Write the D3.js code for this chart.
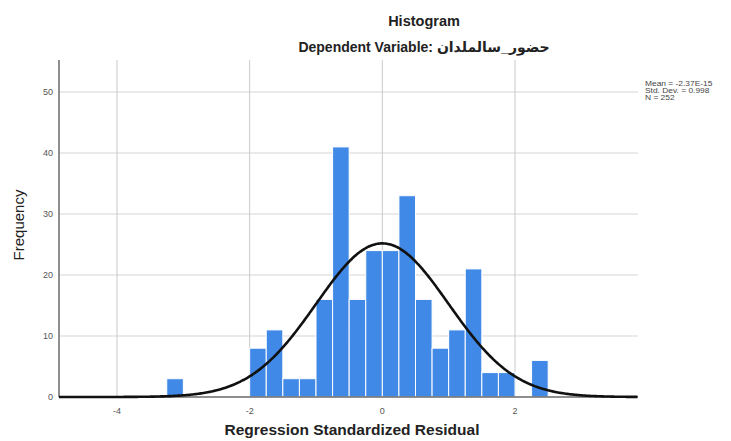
<!DOCTYPE html>
<html>
<head>
<meta charset="utf-8">
<script src="https://cdn.jsdelivr.net/npm/d3@7"></script>
<style>
  html, body { margin: 0; padding: 0; background: #fff; }
  svg { display: block; font-family: "Liberation Sans", Arial, "DejaVu Sans", sans-serif; }
</style>
</head>
<body>
<svg id="chart" width="731" height="441"></svg>
<script>
// ---- data ----
const binLower = [-3.25, -2.0, -1.75, -1.5, -1.25, -1.0, -0.75, -0.5, -0.25, 0.0, 0.25, 0.5, 0.75, 1.0, 1.25, 1.5, 1.75, 2.25];
const counts   = [3, 8, 11, 3, 3, 16, 41, 16, 24, 24, 33, 16, 8, 11, 21, 4, 4, 6];
const binWidth = 0.25;
const xTicks = [-4, -2, 0, 2];
const yTicks = [0, 10, 20, 30, 40, 50];
const statMean = -2.37e-15;
const statSD = 0.998;
const statN = 252;
const statLines = ["Mean = -2.37E-15", "Std. Dev. = 0.998", "N = 252"];
const titleText = "Histogram";
const subtitleText = "Dependent Variable: حضور_سالملدان";
const xTitle = "Regression Standardized Residual";
const yTitle = "Frequency";

// ---- layout ----
const svg = d3.select("#chart");
const x = d3.scaleLinear().domain([-4, 2]).range([117, 515]);
const y = d3.scaleLinear().domain([0, 50]).range([397, 92]);
const xMin = x.invert(59), xMax = x.invert(638);
const yMax = y.invert(60);

// horizontal gridlines
svg.append("g").selectAll("line").data(yTicks.filter(d => d > 0)).join("line")
  .attr("x1", x(xMin)).attr("x2", x(xMax))
  .attr("y1", d => y(d)).attr("y2", d => y(d))
  .attr("stroke", "#e3e3e3").attr("stroke-width", 1.6);

// vertical gridlines
svg.append("g").selectAll("line").data(xTicks).join("line")
  .attr("x1", d => x(d)).attr("x2", d => x(d))
  .attr("y1", y(yMax)).attr("y2", y(0))
  .attr("stroke", "#c9c9c9").attr("stroke-width", 1);

// bars
svg.append("g").selectAll("rect").data(binLower.map((b, i) => ({b, c: counts[i]}))).join("rect")
  .attr("x", d => x(d.b))
  .attr("width", d => x(d.b + binWidth) - x(d.b))
  .attr("y", d => y(d.c))
  .attr("height", d => y(0) - y(d.c))
  .attr("fill", "#4189e6")
  .attr("stroke", "#ffffff").attr("stroke-width", 1);

// axes lines
svg.append("line").attr("x1", 59).attr("x2", 59).attr("y1", y(yMax)).attr("y2", y(0))
  .attr("stroke", "#6a6a6a").attr("stroke-width", 1.5);
svg.append("line").attr("x1", 59).attr("x2", x(xMax)).attr("y1", y(0)).attr("y2", y(0))
  .attr("stroke", "#6a6a6a").attr("stroke-width", 1.5);

// normal curve
const curvePts = d3.range(xMin, xMax + 0.001, 0.02).map(v => [v,
  statN * binWidth * Math.exp(-0.5 * Math.pow((v - statMean) / statSD, 2)) / (statSD * Math.sqrt(2 * Math.PI))]);
svg.append("path").datum(curvePts)
  .attr("d", d3.line().x(d => x(d[0])).y(d => y(d[1])).curve(d3.curveBasis))
  .attr("fill", "none").attr("stroke", "#111").attr("stroke-width", 2.6);

// tick labels
svg.append("g").selectAll("text").data(yTicks).join("text")
  .attr("x", 53).attr("y", d => y(d) + 3)
  .attr("text-anchor", "end").attr("font-size", 9).attr("fill", "#555")
  .text(d => d);
svg.append("g").selectAll("text").data(xTicks).join("text")
  .attr("x", d => x(d)).attr("y", 414)
  .attr("text-anchor", "middle").attr("font-size", 9).attr("fill", "#555")
  .text(d => d);

// titles
svg.append("text").attr("x", 424).attr("y", 26).attr("text-anchor", "middle")
  .attr("font-size", 14.5).attr("font-weight", "bold").attr("fill", "#222").text(titleText);
svg.append("text").attr("x", 424).attr("y", 52).attr("text-anchor", "middle")
  .attr("font-size", 14).attr("font-weight", "bold").attr("fill", "#222")
  .attr("direction", "ltr").text(subtitleText);
svg.append("text").attr("x", 352).attr("y", 435).attr("text-anchor", "middle")
  .attr("font-size", 15.5).attr("font-weight", "bold").attr("fill", "#222").text(xTitle);
svg.append("text").attr("transform", "translate(24,225) rotate(-90)").attr("text-anchor", "middle")
  .attr("font-size", 15).attr("fill", "#222").text(yTitle);

// stats box
svg.append("g").attr("transform", "translate(645,0) scale(1.2,1)")
  .selectAll("text").data(statLines).join("text")
  .attr("x", 0).attr("y", (d, i) => 86 + i * 7)
  .attr("font-size", 7).attr("fill", "#444")
  .text(d => d);
</script>
</body>
</html>
